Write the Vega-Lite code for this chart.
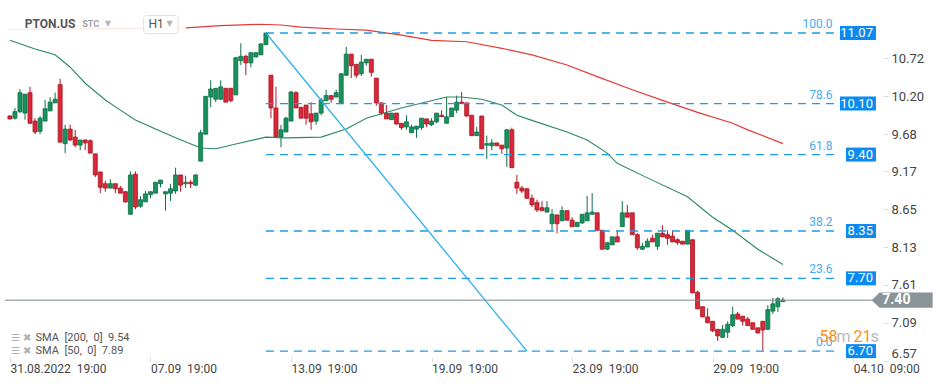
{
"$schema":"https://vega.github.io/schema/vega-lite/v6.json",
"width":880,"height":361,"padding":0,"background":"white",
"config":{"view":{"stroke":null},"font":"Roboto"},
"datasets":{
"candles":[
{"i":0,"o":9.93,"h":9.94,"l":9.88,"c":9.89},{"i":1,"o":9.90,"h":10.04,"l":9.88,"c":9.99},{"i":2,"o":9.99,"h":10.30,"l":9.97,"c":10.25},{"i":3,"o":9.97,"h":10.23,"l":9.88,"c":10.23},{"i":4,"o":10.25,"h":10.33,"l":9.82,"c":9.83},{"i":5,"o":9.86,"h":9.90,"l":9.68,"c":9.71},{"i":6,"o":9.72,"h":9.93,"l":9.68,"c":9.90},{"i":7,"o":9.86,"h":10.15,"l":9.86,"c":10.03},{"i":8,"o":10.00,"h":10.19,"l":10.00,"c":10.12},{"i":9,"o":10.11,"h":10.25,"l":10.11,"c":10.16},
{"i":10,"o":10.36,"h":10.44,"l":9.57,"c":9.57},{"i":11,"o":9.55,"h":9.81,"l":9.42,"c":9.75},{"i":12,"o":9.75,"h":9.81,"l":9.59,"c":9.60},{"i":13,"o":9.64,"h":9.74,"l":9.50,"c":9.53},{"i":14,"o":9.53,"h":9.60,"l":9.46,"c":9.60},{"i":15,"o":9.60,"h":9.61,"l":9.46,"c":9.56},{"i":16,"o":9.59,"h":9.61,"l":9.42,"c":9.42},{"i":17,"o":9.41,"h":9.41,"l":9.09,"c":9.12},{"i":18,"o":9.16,"h":9.17,"l":8.87,"c":8.95},{"i":19,"o":9.00,"h":9.04,"l":8.89,"c":8.94},
{"i":20,"o":8.94,"h":9.06,"l":8.94,"c":9.00},{"i":21,"o":9.00,"h":9.00,"l":8.87,"c":8.93},{"i":22,"o":8.94,"h":8.97,"l":8.87,"c":8.87},{"i":23,"o":8.89,"h":8.90,"l":8.74,"c":8.75},{"i":24,"o":8.58,"h":9.17,"l":8.58,"c":9.12},{"i":25,"o":9.13,"h":9.17,"l":8.65,"c":8.68},{"i":26,"o":8.69,"h":8.83,"l":8.67,"c":8.78},{"i":27,"o":8.75,"h":8.90,"l":8.75,"c":8.86},{"i":28,"o":8.85,"h":8.89,"l":8.80,"c":8.89},{"i":29,"o":8.87,"h":9.02,"l":8.87,"c":9.02},
{"i":30,"o":9.00,"h":9.05,"l":8.95,"c":9.05},{"i":31,"o":8.86,"h":8.89,"l":8.63,"c":8.89},{"i":32,"o":8.87,"h":9.00,"l":8.76,"c":8.93},{"i":33,"o":8.90,"h":9.22,"l":8.86,"c":9.12},{"i":34,"o":9.12,"h":9.12,"l":8.89,"c":8.98},{"i":35,"o":9.00,"h":9.11,"l":8.94,"c":9.02},{"i":36,"o":9.02,"h":9.05,"l":8.94,"c":9.00},{"i":37,"o":8.98,"h":9.13,"l":8.97,"c":9.12},{"i":38,"o":9.31,"h":9.74,"l":9.31,"c":9.70},{"i":39,"o":9.68,"h":10.20,"l":9.68,"c":10.20},
{"i":40,"o":10.19,"h":10.42,"l":10.05,"c":10.30},{"i":41,"o":10.16,"h":10.31,"l":10.12,"c":10.31},{"i":42,"o":10.16,"h":10.42,"l":10.16,"c":10.33},{"i":43,"o":10.31,"h":10.31,"l":10.12,"c":10.12},{"i":44,"o":10.31,"h":10.31,"l":10.12,"c":10.14},{"i":45,"o":10.22,"h":10.74,"l":10.22,"c":10.73},{"i":46,"o":10.69,"h":10.93,"l":10.63,"c":10.75},{"i":47,"o":10.75,"h":10.77,"l":10.49,"c":10.66},{"i":48,"o":10.66,"h":10.80,"l":10.60,"c":10.80},{"i":49,"o":10.74,"h":10.80,"l":10.74,"c":10.80},
{"i":50,"o":10.77,"h":10.93,"l":10.77,"c":10.92},{"i":51,"o":10.91,"h":11.07,"l":10.91,"c":11.07},{"i":52,"o":10.49,"h":10.49,"l":9.90,"c":10.04},{"i":53,"o":10.04,"h":10.33,"l":9.63,"c":9.64},{"i":54,"o":9.64,"h":9.81,"l":9.50,"c":9.74},{"i":55,"o":9.71,"h":9.92,"l":9.71,"c":9.90},{"i":56,"o":9.86,"h":10.27,"l":9.86,"c":10.26},{"i":57,"o":10.25,"h":10.27,"l":10.04,"c":10.04},{"i":58,"o":10.05,"h":10.05,"l":9.90,"c":9.90},{"i":59,"o":10.08,"h":10.08,"l":9.81,"c":9.90},
{"i":60,"o":9.96,"h":10.12,"l":9.74,"c":9.85},{"i":61,"o":9.86,"h":9.97,"l":9.81,"c":9.97},{"i":62,"o":9.97,"h":10.18,"l":9.94,"c":10.15},{"i":63,"o":10.14,"h":10.29,"l":10.14,"c":10.21},{"i":64,"o":10.21,"h":10.21,"l":10.11,"c":10.16},{"i":65,"o":10.19,"h":10.29,"l":10.19,"c":10.25},{"i":66,"o":10.10,"h":10.51,"l":10.10,"c":10.51},{"i":67,"o":10.49,"h":10.88,"l":10.48,"c":10.78},{"i":68,"o":10.78,"h":10.78,"l":10.45,"c":10.62},{"i":69,"o":10.64,"h":10.64,"l":10.45,"c":10.49},
{"i":70,"o":10.51,"h":10.77,"l":10.48,"c":10.67},{"i":71,"o":10.66,"h":10.71,"l":10.62,"c":10.71},{"i":72,"o":10.71,"h":10.71,"l":10.47,"c":10.53},{"i":73,"o":10.45,"h":10.45,"l":10.07,"c":10.11},{"i":74,"o":10.11,"h":10.12,"l":9.94,"c":9.97},{"i":75,"o":9.97,"h":10.08,"l":9.89,"c":9.89},{"i":76,"o":9.88,"h":9.97,"l":9.88,"c":9.97},{"i":77,"o":9.97,"h":9.97,"l":9.81,"c":9.82},{"i":78,"o":9.83,"h":9.83,"l":9.74,"c":9.77},{"i":79,"o":9.78,"h":9.94,"l":9.74,"c":9.85},
{"i":80,"o":9.70,"h":9.81,"l":9.70,"c":9.78},{"i":81,"o":9.75,"h":9.79,"l":9.63,"c":9.79},{"i":82,"o":9.77,"h":9.90,"l":9.74,"c":9.90},{"i":83,"o":9.89,"h":9.89,"l":9.78,"c":9.82},{"i":84,"o":9.81,"h":9.90,"l":9.79,"c":9.86},{"i":85,"o":9.85,"h":9.97,"l":9.83,"c":9.97},{"i":86,"o":9.94,"h":10.01,"l":9.92,"c":9.92},{"i":87,"o":9.83,"h":10.19,"l":9.83,"c":9.92},{"i":88,"o":9.92,"h":10.04,"l":9.92,"c":10.04},{"i":89,"o":10.01,"h":10.21,"l":9.97,"c":10.12},
{"i":90,"o":10.12,"h":10.26,"l":10.10,"c":10.10},{"i":91,"o":10.11,"h":10.11,"l":9.92,"c":9.93},{"i":92,"o":9.94,"h":9.94,"l":9.66,"c":9.66},{"i":93,"o":9.66,"h":9.78,"l":9.66,"c":9.71},{"i":94,"o":9.93,"h":9.93,"l":9.48,"c":9.48},{"i":95,"o":9.53,"h":9.66,"l":9.34,"c":9.55},{"i":96,"o":9.52,"h":9.61,"l":9.46,"c":9.56},{"i":97,"o":9.56,"h":9.56,"l":9.52,"c":9.52},{"i":98,"o":9.53,"h":9.53,"l":9.41,"c":9.48},{"i":99,"o":9.49,"h":9.75,"l":9.23,"c":9.74},
{"i":100,"o":9.74,"h":9.77,"l":9.22,"c":9.22},{"i":101,"o":9.02,"h":9.12,"l":8.86,"c":8.94},{"i":102,"o":8.94,"h":8.97,"l":8.87,"c":8.90},{"i":103,"o":8.93,"h":8.94,"l":8.79,"c":8.80},{"i":104,"o":8.80,"h":8.85,"l":8.68,"c":8.71},{"i":105,"o":8.74,"h":8.78,"l":8.61,"c":8.64},{"i":106,"o":8.67,"h":8.76,"l":8.63,"c":8.63},{"i":107,"o":8.61,"h":8.76,"l":8.61,"c":8.67},{"i":108,"o":8.45,"h":8.65,"l":8.36,"c":8.58},{"i":109,"o":8.57,"h":8.58,"l":8.32,"c":8.45},
{"i":110,"o":8.49,"h":8.69,"l":8.49,"c":8.63},{"i":111,"o":8.63,"h":8.63,"l":8.49,"c":8.50},{"i":112,"o":8.50,"h":8.54,"l":8.41,"c":8.41},{"i":113,"o":8.41,"h":8.47,"l":8.41,"c":8.47},{"i":114,"o":8.46,"h":8.58,"l":8.45,"c":8.58},{"i":115,"o":8.49,"h":8.83,"l":8.49,"c":8.60},{"i":116,"o":8.58,"h":8.87,"l":8.58,"c":8.61},{"i":117,"o":8.60,"h":8.60,"l":8.36,"c":8.36},{"i":118,"o":8.36,"h":8.36,"l":8.10,"c":8.10},{"i":119,"o":8.10,"h":8.19,"l":8.09,"c":8.19},
{"i":120,"o":8.16,"h":8.27,"l":8.16,"c":8.27},{"i":121,"o":8.27,"h":8.36,"l":8.20,"c":8.20},{"i":122,"o":8.41,"h":8.76,"l":8.41,"c":8.60},{"i":123,"o":8.60,"h":8.71,"l":8.54,"c":8.54},{"i":124,"o":8.60,"h":8.60,"l":8.30,"c":8.30},{"i":125,"o":8.30,"h":8.32,"l":8.09,"c":8.12},{"i":126,"o":8.10,"h":8.19,"l":8.09,"c":8.14},{"i":127,"o":8.13,"h":8.25,"l":8.13,"c":8.21},{"i":128,"o":8.25,"h":8.30,"l":8.20,"c":8.20},{"i":129,"o":8.14,"h":8.32,"l":8.09,"c":8.32},
{"i":130,"o":8.32,"h":8.43,"l":8.27,"c":8.27},{"i":131,"o":8.30,"h":8.36,"l":8.16,"c":8.25},{"i":132,"o":8.28,"h":8.36,"l":8.20,"c":8.20},{"i":133,"o":8.23,"h":8.25,"l":8.16,"c":8.19},{"i":134,"o":8.21,"h":8.21,"l":8.17,"c":8.17},{"i":135,"o":8.17,"h":8.36,"l":8.17,"c":8.36},{"i":136,"o":8.23,"h":8.23,"l":7.50,"c":7.50},{"i":137,"o":7.51,"h":7.53,"l":7.28,"c":7.28},{"i":138,"o":7.31,"h":7.31,"l":7.17,"c":7.17},{"i":139,"o":7.17,"h":7.29,"l":7.09,"c":7.09},
{"i":140,"o":7.11,"h":7.11,"l":6.96,"c":6.98},{"i":141,"o":7.00,"h":7.00,"l":6.84,"c":6.91},{"i":142,"o":6.89,"h":7.06,"l":6.88,"c":7.00},{"i":143,"o":6.96,"h":7.11,"l":6.88,"c":7.07},{"i":144,"o":7.05,"h":7.31,"l":7.03,"c":7.20},{"i":145,"o":7.21,"h":7.24,"l":7.14,"c":7.14},{"i":146,"o":7.18,"h":7.18,"l":7.05,"c":7.11},{"i":147,"o":7.14,"h":7.17,"l":7.05,"c":7.05},{"i":148,"o":7.09,"h":7.09,"l":7.00,"c":7.00},{"i":149,"o":7.02,"h":7.02,"l":6.94,"c":6.95},
{"i":150,"o":7.11,"h":7.11,"l":6.70,"c":6.99},{"i":151,"o":7.00,"h":7.33,"l":6.99,"c":7.27},{"i":152,"o":7.25,"h":7.43,"l":7.21,"c":7.35},{"i":153,"o":7.31,"h":7.44,"l":7.24,"c":7.42},{"i":154,"o":7.38,"h":7.44,"l":7.38,"c":7.40}
],
"s200":[{"i":0,"v":11.12},{"i":35,"v":11.14},{"i":42,"v":11.17},{"i":50,"v":11.19},{"i":54,"v":11.18},{"i":58,"v":11.15},{"i":65,"v":11.125},{"i":71,"v":11.11},{"i":78,"v":11.04},{"i":84,"v":10.97},{"i":91,"v":10.95},{"i":98,"v":10.86},{"i":104,"v":10.77},{"i":111,"v":10.63},{"i":117,"v":10.47},{"i":124,"v":10.29},{"i":131,"v":10.12},{"i":137,"v":9.98},{"i":144,"v":9.83},{"i":147,"v":9.74},{"i":154,"v":9.55}],
"s50":[{"i":0,"v":10.97},{"i":5,"v":10.85},{"i":9,"v":10.77},{"i":12,"v":10.6},{"i":15,"v":10.38},{"i":19,"v":10.15},{"i":22,"v":10.01},{"i":25,"v":9.875},{"i":29,"v":9.75},{"i":33,"v":9.63},{"i":38,"v":9.49},{"i":41,"v":9.48},{"i":45,"v":9.545},{"i":51,"v":9.64},{"i":55,"v":9.63},{"i":62,"v":9.64},{"i":67,"v":9.75},{"i":71,"v":9.9},{"i":78,"v":10.04},{"i":87,"v":10.19},{"i":90,"v":10.19},{"i":94,"v":10.16},{"i":98,"v":10.08},{"i":101,"v":9.94},{"i":104,"v":9.87},{"i":111,"v":9.71},{"i":115,"v":9.6},{"i":119,"v":9.42},{"i":121,"v":9.28},{"i":127,"v":9.08},{"i":135,"v":8.82},{"i":140,"v":8.54},{"i":144,"v":8.36},{"i":149,"v":8.1},{"i":154,"v":7.89}],
"fib":[{"pct":"100.0","v":11.07,"t":"11.07"},{"pct":"78.6","v":10.10,"t":"10.10"},{"pct":"61.8","v":9.40,"t":"9.40"},{"pct":"38.2","v":8.35,"t":"8.35"},{"pct":"23.6","v":7.70,"t":"7.70"},{"pct":"0.0","v":6.70,"t":"6.70"}],
"diag":[{"i":51,"p":11.07},{"i":103,"p":6.70}],
"price":[{"p":7.40,"t":"7.40"}],
"head":[{"sym":"PTON.US","kind":"STC","tf":"H1"}]
},
"layer":[
{"data":{"name":"candles"},"mark":{"type":"rule","strokeWidth":1},
 "encoding":{
  "x":{"field":"i","type":"quantitative","scale":{"domain":[-0.985,172.35],"nice":false,"zero":false},
   "axis":{"values":[0,28,56,84,112,140,168],"labelExpr":"datum.value==0?'31.08.2022\u00a0\u00a019:00':datum.value==28?'07.09\u00a0\u00a019:00':datum.value==56?'13.09\u00a0\u00a019:00':datum.value==84?'19.09\u00a0\u00a019:00':datum.value==112?'23.09\u00a0\u00a019:00':datum.value==140?'29.09\u00a0\u00a019:00':'04.10\u00a0\u00a009:00'","labelAlign":"left","labelFont":"Roboto","labelFontSize":12,"labelColor":"#444444","tickColor":"#dcdcdc","tickSize":5,"domain":false,"grid":false,"title":null,"offset":-4,"labelPadding":1,"labelFlush":false,"labelOverlap":false,"labelBound":false}},
  "y":{"field":"l","type":"quantitative","scale":{"domain":[6.5645,11.5233],"nice":false,"zero":false},
   "axis":{"orient":"right","values":[6.57,7.09,7.61,8.13,8.65,9.17,9.68,10.2,10.72],"format":".2f","labelFont":"Roboto","labelFontSize":13,"labelColor":"#444444","tickColor":"#dcdcdc","tickSize":5,"offset":3,"labelPadding":3,"domain":false,"grid":false,"title":null,"labelOverlap":false,"labelFlush":3}},
  "y2":{"field":"h"},
  "color":{"condition":{"test":"datum.c>=datum.o","value":"#0f6e46"},"value":"#b5182a"}}},
{"data":{"name":"candles"},"mark":{"type":"bar","size":4,"strokeWidth":0.8},
 "encoding":{
  "x":{"field":"i","type":"quantitative","scale":{"domain":[-0.985,172.35],"nice":false,"zero":false}},
  "y":{"field":"o","type":"quantitative","scale":{"domain":[6.5645,11.5233],"nice":false,"zero":false}},
  "y2":{"field":"c"},
  "fill":{"condition":{"test":"datum.c>=datum.o","value":"#18915e"},"value":"#d8283a"},
  "stroke":{"condition":{"test":"datum.c>=datum.o","value":"#0f6e46"},"value":"#a8141f"}}},
{"data":{"name":"s200"},"mark":{"type":"line","color":"#e53935","strokeWidth":1.2},
 "encoding":{
  "x":{"field":"i","type":"quantitative","scale":{"domain":[-0.985,172.35],"nice":false,"zero":false}},
  "y":{"field":"v","type":"quantitative","scale":{"domain":[6.5645,11.5233],"nice":false,"zero":false}}}},
{"data":{"name":"s50"},"mark":{"type":"line","color":"#2a8a5f","strokeWidth":1.1},
 "encoding":{
  "x":{"field":"i","type":"quantitative","scale":{"domain":[-0.985,172.35],"nice":false,"zero":false}},
  "y":{"field":"v","type":"quantitative","scale":{"domain":[6.5645,11.5233],"nice":false,"zero":false}}}},
{"data":{"name":"fib"},"mark":{"type":"rule","color":"#1e9be6","strokeWidth":1.4,"strokeDash":[8,6]},
 "encoding":{
  "x":{"datum":51,"type":"quantitative","scale":{"domain":[-0.985,172.35],"nice":false,"zero":false}},
  "x2":{"datum":165},
  "y":{"field":"v","type":"quantitative","scale":{"domain":[6.5645,11.5233],"nice":false,"zero":false}}}},
{"data":{"name":"diag"},"mark":{"type":"line","color":"#2cb0f0","strokeWidth":1.3},
 "encoding":{
  "x":{"field":"i","type":"quantitative","scale":{"domain":[-0.985,172.35],"nice":false,"zero":false}},
  "y":{"field":"p","type":"quantitative","scale":{"domain":[6.5645,11.5233],"nice":false,"zero":false}}}},
{"data":{"name":"price"},"mark":{"type":"rule","color":"#7d878c","strokeWidth":1},
 "encoding":{
  "x":{"datum":-1,"type":"quantitative","scale":{"domain":[-0.985,172.35],"nice":false,"zero":false}},
  "x2":{"datum":171.8},
  "y":{"field":"p","type":"quantitative","scale":{"domain":[6.5645,11.5233],"nice":false,"zero":false}}}},
{"data":{"name":"price"},"mark":{"type":"point","filled":true,"shape":"M-1,0L-0.74,-0.25L1,-0.25L1,0.25L-0.74,0.25Z","size":3721,"color":"#8a9398","opacity":1,"strokeWidth":0},
 "encoding":{
  "x":{"datum":177.76,"type":"quantitative","scale":{"domain":[-0.985,172.35],"nice":false,"zero":false}},
  "y":{"field":"p","type":"quantitative","scale":{"domain":[6.5645,11.5233],"nice":false,"zero":false}}}},
{"data":{"name":"price"},"mark":{"type":"text","color":"white","fontSize":14,"fontWeight":"bold","font":"Roboto","align":"center","baseline":"middle"},
 "encoding":{
  "x":{"datum":176.6,"type":"quantitative","scale":{"domain":[-0.985,172.35],"nice":false,"zero":false}},
  "y":{"field":"p","type":"quantitative","scale":{"domain":[6.5645,11.5233],"nice":false,"zero":false}},
  "text":{"field":"t"}}},
{"data":{"name":"fib"},"transform":[{"filter":"length(datum.t)==5"}],"mark":{"type":"rect","color":"#0b8af2","xOffset":-36,"yOffset":-7,"y2Offset":7},
 "encoding":{
  "x":{"datum":172.54,"type":"quantitative","scale":{"domain":[-0.985,172.35],"nice":false,"zero":false}},
  "x2":{"datum":172.54},
  "y":{"field":"v","type":"quantitative","scale":{"domain":[6.5645,11.5233],"nice":false,"zero":false}},
  "y2":{"field":"v"}}},
{"data":{"name":"fib"},"transform":[{"filter":"length(datum.t)==4"}],"mark":{"type":"rect","color":"#0b8af2","xOffset":-30,"yOffset":-7,"y2Offset":7},
 "encoding":{
  "x":{"datum":172.54,"type":"quantitative","scale":{"domain":[-0.985,172.35],"nice":false,"zero":false}},
  "x2":{"datum":172.54},
  "y":{"field":"v","type":"quantitative","scale":{"domain":[6.5645,11.5233],"nice":false,"zero":false}},
  "y2":{"field":"v"}}},
{"data":{"name":"fib"},"mark":{"type":"text","color":"white","fontSize":13,"font":"Roboto","align":"right","baseline":"middle","dx":-3},
 "encoding":{
  "x":{"datum":172.54,"type":"quantitative","scale":{"domain":[-0.985,172.35],"nice":false,"zero":false}},
  "y":{"field":"v","type":"quantitative","scale":{"domain":[6.5645,11.5233],"nice":false,"zero":false}},
  "text":{"field":"t"}}},
{"data":{"name":"fib"},"mark":{"type":"text","color":"#45acef","fontSize":12,"font":"Roboto","align":"right","baseline":"middle","dy":-9},
 "encoding":{
  "x":{"datum":163.9,"type":"quantitative","scale":{"domain":[-0.985,172.35],"nice":false,"zero":false}},
  "y":{"field":"v","type":"quantitative","scale":{"domain":[6.5645,11.5233],"nice":false,"zero":false}},
  "text":{"field":"pct"}}},
{"data":{"name":"head"},"mark":{"type":"rect","color":"white","opacity":0.88},
 "encoding":{
  "x":{"datum":-1,"type":"quantitative","scale":{"domain":[-0.985,172.35],"nice":false,"zero":false}},
  "x2":{"datum":35.1},
  "y":{"datum":11.03,"type":"quantitative","scale":{"domain":[6.5645,11.5233],"nice":false,"zero":false}},
  "y2":{"datum":11.35}}},
{"data":{"name":"head"},"mark":{"type":"rect","fill":"white","stroke":"#e2e2e2","strokeWidth":1,"cornerRadius":3},
 "encoding":{
  "x":{"datum":26.6,"type":"quantitative","scale":{"domain":[-0.985,172.35],"nice":false,"zero":false}},
  "x2":{"datum":33.5},
  "y":{"datum":11.06,"type":"quantitative","scale":{"domain":[6.5645,11.5233],"nice":false,"zero":false}},
  "y2":{"datum":11.31}}},
{"data":{"name":"head"},"mark":{"type":"text","color":"#555555","fontSize":12,"fontWeight":"bold","font":"Roboto","align":"left","baseline":"middle"},
 "encoding":{
  "x":{"datum":2.95,"type":"quantitative","scale":{"domain":[-0.985,172.35],"nice":false,"zero":false}},
  "y":{"datum":11.2,"type":"quantitative","scale":{"domain":[6.5645,11.5233],"nice":false,"zero":false}},
  "text":{"field":"sym"}}},
{"data":{"name":"head"},"mark":{"type":"text","color":"#9aa0a6","fontSize":9,"fontWeight":"bold","font":"Roboto","align":"left","baseline":"middle"},
 "encoding":{
  "x":{"datum":14.4,"type":"quantitative","scale":{"domain":[-0.985,172.35],"nice":false,"zero":false}},
  "y":{"datum":11.19,"type":"quantitative","scale":{"domain":[6.5645,11.5233],"nice":false,"zero":false}},
  "text":{"field":"kind"}}},
{"data":{"name":"head"},"mark":{"type":"text","color":"#555555","fontSize":12,"font":"Roboto","align":"left","baseline":"middle"},
 "encoding":{
  "x":{"datum":27.6,"type":"quantitative","scale":{"domain":[-0.985,172.35],"nice":false,"zero":false}},
  "y":{"datum":11.19,"type":"quantitative","scale":{"domain":[6.5645,11.5233],"nice":false,"zero":false}},
  "text":{"field":"tf"}}},
{"data":{"name":"head"},"mark":{"type":"text","color":"#b5b5b5","fontSize":8,"font":"DejaVu Sans","align":"left","baseline":"middle","text":"▼"},
 "encoding":{
  "x":{"datum":18.9,"type":"quantitative","scale":{"domain":[-0.985,172.35],"nice":false,"zero":false}},
  "y":{"datum":11.2,"type":"quantitative","scale":{"domain":[6.5645,11.5233],"nice":false,"zero":false}}}},
{"data":{"name":"head"},"mark":{"type":"text","color":"#b5b5b5","fontSize":8,"font":"DejaVu Sans","align":"left","baseline":"middle","text":"▼"},
 "encoding":{
  "x":{"datum":31.2,"type":"quantitative","scale":{"domain":[-0.985,172.35],"nice":false,"zero":false}},
  "y":{"datum":11.19,"type":"quantitative","scale":{"domain":[6.5645,11.5233],"nice":false,"zero":false}}}},
{"data":{"name":"head"},"mark":{"type":"text","color":"#555555","fontSize":11,"font":"Roboto","align":"left","baseline":"middle","text":"SMA\u00a0\u00a0[200,\u00a0\u00a00]\u00a0\u00a09.54"},
 "encoding":{
  "x":{"datum":5.1,"type":"quantitative","scale":{"domain":[-0.985,172.35],"nice":false,"zero":false}},
  "y":{"datum":6.88,"type":"quantitative","scale":{"domain":[6.5645,11.5233],"nice":false,"zero":false}}}},
{"data":{"name":"head"},"mark":{"type":"text","color":"#555555","fontSize":11,"font":"Roboto","align":"left","baseline":"middle","text":"SMA\u00a0\u00a0[50,\u00a0\u00a00]\u00a0\u00a07.89"},
 "encoding":{
  "x":{"datum":5.1,"type":"quantitative","scale":{"domain":[-0.985,172.35],"nice":false,"zero":false}},
  "y":{"datum":6.702,"type":"quantitative","scale":{"domain":[6.5645,11.5233],"nice":false,"zero":false}}}},
{"data":{"name":"head"},"mark":{"type":"text","color":"#b0b0b0","fontSize":10,"font":"DejaVu Sans","align":"left","baseline":"middle","text":"☰\u00a0✖"},
 "encoding":{
  "x":{"datum":0.2,"type":"quantitative","scale":{"domain":[-0.985,172.35],"nice":false,"zero":false}},
  "y":{"datum":6.88,"type":"quantitative","scale":{"domain":[6.5645,11.5233],"nice":false,"zero":false}}}},
{"data":{"name":"head"},"mark":{"type":"text","color":"#b0b0b0","fontSize":10,"font":"DejaVu Sans","align":"left","baseline":"middle","text":"☰\u00a0✖"},
 "encoding":{
  "x":{"datum":0.2,"type":"quantitative","scale":{"domain":[-0.985,172.35],"nice":false,"zero":false}},
  "y":{"datum":6.702,"type":"quantitative","scale":{"domain":[6.5645,11.5233],"nice":false,"zero":false}}}},
{"data":{"name":"head"},"mark":{"type":"text","color":"#f7931e","fontSize":16,"font":"Roboto","align":"left","baseline":"middle","text":"58"},
 "encoding":{
  "x":{"datum":161.3,"type":"quantitative","scale":{"domain":[-0.985,172.35],"nice":false,"zero":false}},
  "y":{"datum":6.89,"type":"quantitative","scale":{"domain":[6.5645,11.5233],"nice":false,"zero":false}}}},
{"data":{"name":"head"},"mark":{"type":"text","color":"#b8b8b8","fontSize":16,"font":"Roboto","align":"left","baseline":"middle","text":"m","dx":17},
 "encoding":{
  "x":{"datum":161.3,"type":"quantitative","scale":{"domain":[-0.985,172.35],"nice":false,"zero":false}},
  "y":{"datum":6.89,"type":"quantitative","scale":{"domain":[6.5645,11.5233],"nice":false,"zero":false}}}},
{"data":{"name":"head"},"mark":{"type":"text","color":"#f7931e","fontSize":16,"font":"Roboto","align":"left","baseline":"middle","text":"21","dx":34},
 "encoding":{
  "x":{"datum":161.3,"type":"quantitative","scale":{"domain":[-0.985,172.35],"nice":false,"zero":false}},
  "y":{"datum":6.89,"type":"quantitative","scale":{"domain":[6.5645,11.5233],"nice":false,"zero":false}}}},
{"data":{"name":"head"},"mark":{"type":"text","color":"#b8b8b8","fontSize":16,"font":"Roboto","align":"left","baseline":"middle","text":"s","dx":51},
 "encoding":{
  "x":{"datum":161.3,"type":"quantitative","scale":{"domain":[-0.985,172.35],"nice":false,"zero":false}},
  "y":{"datum":6.89,"type":"quantitative","scale":{"domain":[6.5645,11.5233],"nice":false,"zero":false}}}}
]
}
